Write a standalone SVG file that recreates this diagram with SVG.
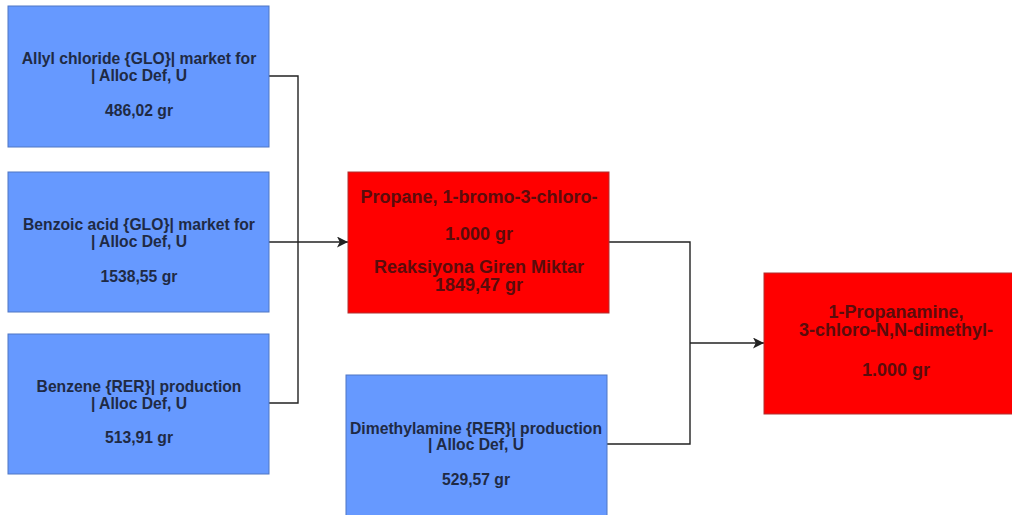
<svg xmlns="http://www.w3.org/2000/svg" width="1012" height="515" viewBox="0 0 1012 515">
  <defs>
    <marker id="arrow" viewBox="0 0 10 10" refX="10" refY="5" markerWidth="11" markerHeight="11" markerUnits="userSpaceOnUse" orient="auto">
      <path d="M0,0 L10,5 L0,10 L2.5,5 Z" fill="#222"/>
    </marker>
  </defs>
  <style>
    .input rect { fill: #6699ff; stroke: #4f76c4; stroke-width: 1; }
    .product rect { fill: #ff0000; stroke: #b03030; stroke-width: 1; }
    text { font-family: "Liberation Sans", Arial, sans-serif; font-weight: bold; text-anchor: middle; }
    .input text { font-size: 15.7px; fill: #1f2a44; }
    .product text { font-size: 18px; fill: #5a0c0c; }
    .link { fill: none; stroke: #222; stroke-width: 1.4; }
  </style>
  <rect width="1012" height="515" fill="#ffffff"/>

  <g id="connectors">
    <polyline class="link" points="269,76 298,76 298,403 269,403"/>
    <line class="link" x1="269" y1="242" x2="348" y2="242" marker-end="url(#arrow)"/>
    <polyline class="link" points="609,242 690,242 690,444 607,444"/>
    <line class="link" x1="690" y1="343" x2="764" y2="343" marker-end="url(#arrow)"/>
  </g>

  <g id="allyl-chloride" class="input">
    <rect x="8" y="6" width="261" height="141"/>
    <text x="139" y="64">Allyl chloride {GLO}| market for</text>
    <text x="139" y="81">| Alloc Def, U</text>
    <text x="139" y="116">486,02 gr</text>
  </g>

  <g id="benzoic-acid" class="input">
    <rect x="8" y="172" width="261" height="140"/>
    <text x="139" y="230">Benzoic acid {GLO}| market for</text>
    <text x="139" y="247">| Alloc Def, U</text>
    <text x="139" y="282">1538,55 gr</text>
  </g>

  <g id="benzene" class="input">
    <rect x="8" y="334" width="261" height="140"/>
    <text x="139" y="392">Benzene {RER}| production</text>
    <text x="139" y="409">| Alloc Def, U</text>
    <text x="139" y="443">513,91 gr</text>
  </g>

  <g id="bromo-chloro-propane" class="product">
    <rect x="348" y="172" width="261" height="141"/>
    <text x="479" y="203">Propane, 1-bromo-3-chloro-</text>
    <text x="479" y="240">1.000 gr</text>
    <text x="479" y="273">Reaksiyona Giren Miktar</text>
    <text x="479" y="291">1849,47 gr</text>
  </g>

  <g id="dimethylamine" class="input">
    <rect x="346" y="375" width="261" height="145"/>
    <text x="476" y="434">Dimethylamine {RER}| production</text>
    <text x="476" y="450">| Alloc Def, U</text>
    <text x="476" y="485">529,57 gr</text>
  </g>

  <g id="chloro-dimethyl-propanamine" class="product">
    <rect x="764" y="273" width="250" height="141"/>
    <text x="896" y="318">1-Propanamine,</text>
    <text x="896" y="336">3-chloro-N,N-dimethyl-</text>
    <text x="896" y="376">1.000 gr</text>
  </g>
</svg>
